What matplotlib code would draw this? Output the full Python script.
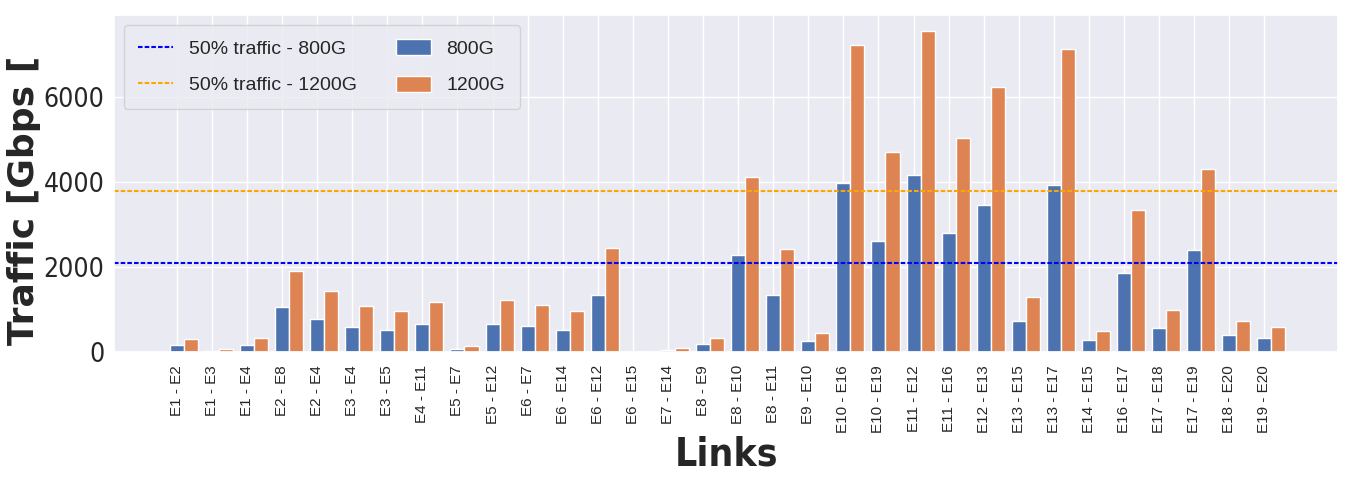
import numpy as np
import matplotlib
matplotlib.use('Agg')
import matplotlib.pyplot as plt
import seaborn as sns

# Link names and traffic per link [Gbps]
links = ['E1 - E2', 'E1 - E3', 'E1 - E4', 'E2 - E8', 'E2 - E4', 'E3 - E4', 'E3 - E5',
         'E4 - E11', 'E5 - E7', 'E5 - E12', 'E6 - E7', 'E6 - E14', 'E6 - E12', 'E6 - E15',
         'E7 - E14', 'E8 - E9', 'E8 - E10', 'E8 - E11', 'E9 - E10', 'E10 - E16', 'E10 - E19',
         'E11 - E12', 'E11 - E16', 'E12 - E13', 'E13 - E15', 'E13 - E17', 'E14 - E15',
         'E16 - E17', 'E17 - E18', 'E17 - E19', 'E18 - E20', 'E19 - E20']
traffic_800 = [157, 31, 173, 1051, 776, 580, 525, 651, 71, 667, 604, 525, 1349, 0,
               47, 180, 2280, 1340, 255, 3975, 2610, 4165, 2790, 3450, 720, 3930, 280,
               1850, 550, 2385, 400, 325]
traffic_1200 = [298, 71, 329, 1914, 1427, 1075, 973, 1184, 149, 1224, 1098, 965, 2447, 0,
                94, 325, 4110, 2425, 450, 7220, 4710, 7550, 5040, 6230, 1285, 7120, 495,
                3340, 985, 4300, 720, 580]
half_800 = 2090
half_1200 = 3790

sns.set_theme(style='darkgrid')
plt.rcParams['font.family'] = ['Liberation Sans', 'DejaVu Sans']

fig = plt.figure(figsize=(13.46, 4.82), dpi=100)
ax = fig.add_axes([0.0847, 0.270, 0.9094, 0.699])

x = np.arange(len(links))
w = 0.4

# 50% traffic reference lines
ax.axhline(half_800, color='blue', linestyle='--', dashes=(2.2, 1.0), linewidth=1.5,
           label='50% traffic - 800G')
ax.axhline(half_1200, color='orange', linestyle='--', dashes=(2.2, 1.0), linewidth=1.5,
           label='50% traffic - 1200G')

# bars
ax.bar(x, traffic_800, w, color='#4C72B0', edgecolor='white', linewidth=1, label='800G')
ax.bar(x + w, traffic_1200, w, color='#DD8452', edgecolor='white', linewidth=1, label='1200G')

ax.set_xlim(-1.79, 33.1)
ax.set_xticks(x, links, rotation=90, fontsize=11)
ax.set_yticks([0, 2000, 4000, 6000])
ax.tick_params(axis='x', length=0, pad=9.5, colors='#262626')
ax.tick_params(axis='y', length=0, pad=7, labelsize=19, colors='#262626')
plt.setp(ax.get_yticklabels(), family='DejaVu Sans', fontstretch='condensed')

ax.set_xlabel('Links', fontsize=28, fontweight='bold', family='DejaVu Sans',
              fontstretch='condensed', labelpad=2, color='#262626')
fig.text(0.005, 0.284, 'Traffic [Gbps [', rotation=90, ha='left', va='bottom',
         fontsize=26, fontweight='bold', family='DejaVu Sans', color='#262626')

ax.legend(ncol=2, loc='upper left', fontsize=14, labelspacing=0.9, borderpad=0.75,
          handleheight=0.9, handlelength=1.8, columnspacing=2.0)

plt.savefig('out.png', dpi=100)
